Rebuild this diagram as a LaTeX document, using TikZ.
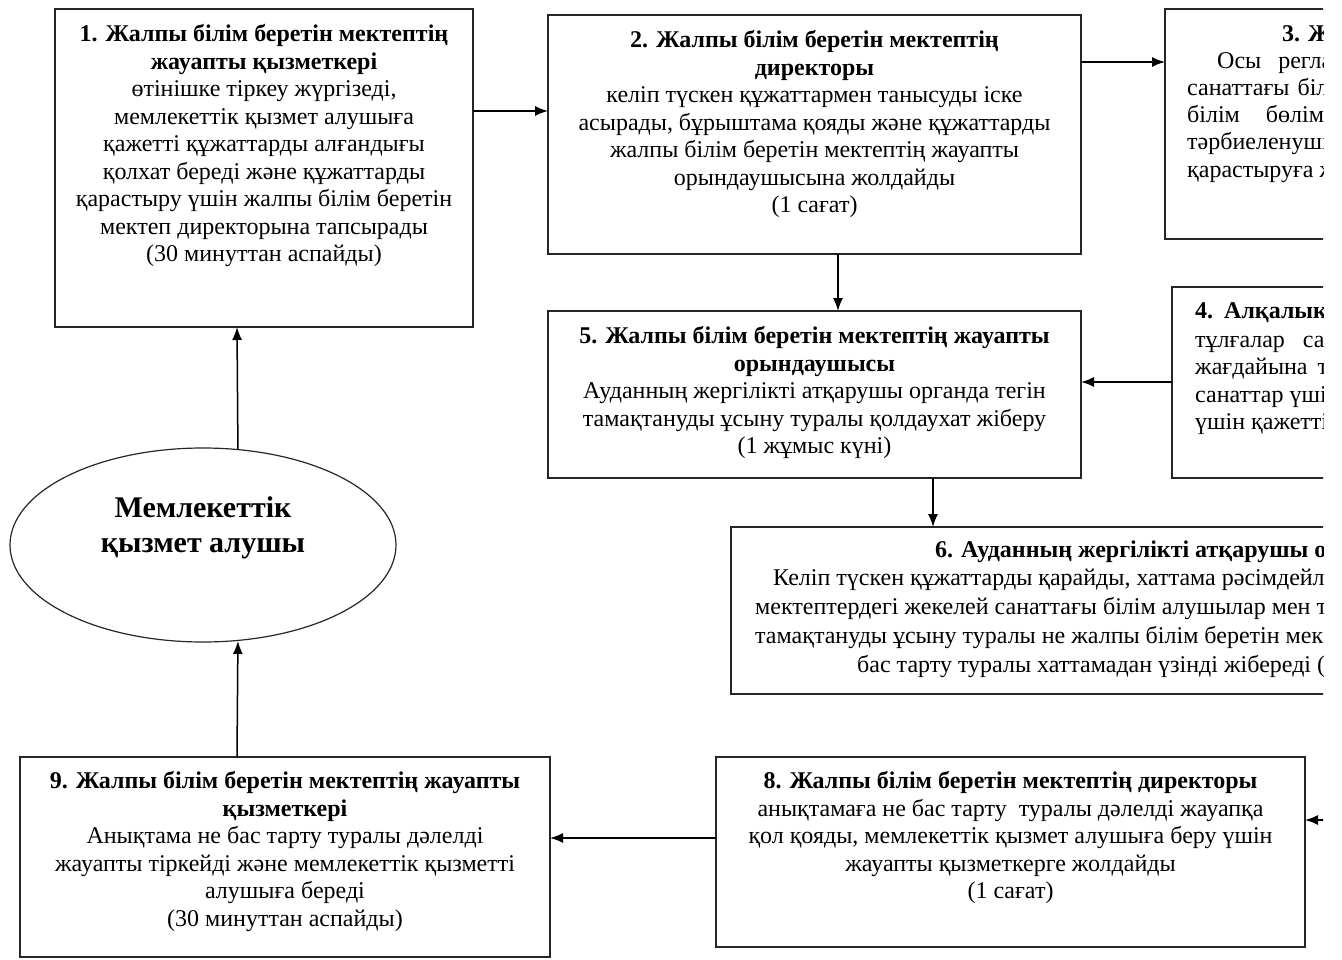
\documentclass[tikz,border=0pt]{standalone}
\usepackage{fontspec}
\setmainfont{Liberation Serif}
\usetikzlibrary{arrows.meta,shapes.geometric}
\begin{document}
\begin{tikzpicture}[x=1pt,y=-1pt,
  box/.style={draw=black!85,line width=1.8pt,inner sep=0pt,outer sep=0pt},
  txt/.style={inner sep=0pt,align=center,font=\fontsize{24}{27.5}\selectfont,anchor=north},
  ln/.style={inner sep=0pt,anchor=base west,font=\fontsize{24}{27.5}\selectfont},
  arr/.style={line width=1.5pt,-{Latex[length=13pt,width=10pt]}},
]
\useasboundingbox (0,0) rectangle (1342,960);
\begin{scope}
\clip (0,0) rectangle (1323,960);
% boxes
\node[box,minimum width=418pt,minimum height=318pt] (b1) at (264,168) {};
\node[box,minimum width=533pt,minimum height=239pt] (b2) at (814.5,134.5) {};
\node[box,minimum width=255pt,minimum height=230pt] (b3) at (1292.5,124) {};
\node[box,minimum width=248pt,minimum height=191pt] (b4) at (1296,382.5) {};
\node[box,minimum width=533pt,minimum height=167pt] (b5) at (814.5,394.5) {};
\node[box,minimum width=689pt,minimum height=167pt] (b6) at (1075.5,610.5) {};
\node[box,minimum width=589pt,minimum height=190pt] (b8) at (1010.5,852) {};
\node[box,minimum width=530pt,minimum height=200pt] (b9) at (285,857) {};
\node[draw=black!85,line width=1.2pt,ellipse,minimum width=386pt,minimum height=194pt,inner sep=0pt] (e) at (203,545) {};
% texts
\node[txt] (t1) at (264,24.5) {\textbf{1. Жалпы білім беретін мектептің}\\\textbf{жауапты қызметкері}\\өтінішке тіркеу жүргізеді,\\мемлекеттік қызмет алушыға\\қажетті құжаттарды алғандығы\\қолхат береді және құжаттарды\\қарастыру үшін жалпы білім беретін\\мектеп директорына тапсырады\\(30 минуттан аспайды)};
\node[txt] (t2) at (814.5,30.5) {\textbf{2. Жалпы білім беретін мектептің}\\\textbf{директоры}\\келіп түскен құжаттармен танысуды іске\\асырады, бұрыштама қояды және құжаттарды\\жалпы білім беретін мектептің жауапты\\орындаушысына жолдайды\\(1 сағат)};
\node[txt] (t5) at (814.5,326.5) {\textbf{5. Жалпы білім беретін мектептің жауапты}\\\textbf{орындаушысы}\\Ауданның жергілікті атқарушы органда тегін\\тамақтануды ұсыну туралы қолдаухат жіберу\\(1 жұмыс күні)};
\node[txt] (t8) at (1010.5,771.5) {\textbf{8. Жалпы білім беретін мектептің директоры}\\анықтамаға не бас тарту\ \ туралы дәлелді жауапқа\\қол қояды, мемлекеттік қызмет алушыға беру үшін\\жауапты қызметкерге жолдайды\\(1 сағат)};
\node[txt] (t9) at (285,771.5) {\textbf{9. Жалпы білім беретін мектептің жауапты}\\\textbf{қызметкері}\\Анықтама не бас тарту туралы дәлелді\\жауапты тіркейді және мемлекеттік қызметті\\алушыға береді\\(30 минуттан аспайды)};
\node[inner sep=0pt,align=center,font=\fontsize{30}{35}\selectfont\bfseries] (te) at (203,528) {Мемлекеттік\\қызмет алушы};
% box 3 (cut at the right edge)
\node[ln] (t3a) at (1282,42) {\textbf{3. Ж}};
\node[ln] (t3b) at (1217,69) {Осы \hspace{11pt}регла};
\node[ln] (t3c) at (1187,96) {санаттағы \hspace{2pt}біл};
\node[ln] (t3d) at (1187,123) {білім \hspace{20pt}бөлімі};
\node[ln] (t3e) at (1187,150) {тәрбиеленуші};
\node[ln] (t3f) at (1187,178) {қарастыруға ж};
% box 4
\node[ln] (t4a) at (1195,319) {\textbf{4. \hspace{3pt}Алқалық}};
\node[ln] (t4b) at (1195,347) {тұлғалар \hspace{12pt}са};
\node[ln] (t4c) at (1195,374) {жағдайына \hspace{4pt}т};
\node[ln] (t4d) at (1195,402) {санаттар үші};
\node[ln] (t4e) at (1195,429) {үшін қажетті};
% box 6
\node[ln] (t6a) at (935,557) {\textbf{6. Ауданның жергілікті атқарушы о}};
\node[ln] (t6b) at (773,585) {Келіп түскен құжаттарды қарайды, хаттама рәсімдейл};
\node[ln] (t6c) at (755,614) {мектептердегі жекелей санаттағы білім алушылар мен т};
\node[ln] (t6d) at (755,643) {тамақтануды ұсыну туралы не жалпы білім беретін мек};
\node[ln] (t6e) at (857,672) {бас тарту туралы хаттамадан үзінді жібереді (};
% connectors
\coordinate (r1) at (0,111);
\coordinate (r2) at (0,62);
\coordinate (c2) at (838,0);
\coordinate (r4) at (0,382);
\coordinate (c5) at (933,0);
\coordinate (in8) at (1340,820);
\coordinate (r8) at (0,838);
\coordinate (c0) at (237,0);
\draw[arr] (b1.east|-r1) -- (b2.west|-r1);
\draw[arr] (b2.east|-r2) -- (b3.west|-r2);
\draw[arr] (b2.south-|c2) -- (b5.north-|c2);
\draw[arr] (b4.west|-r4) -- (b5.east|-r4);
\draw[arr] (b5.south-|c5) -- (b6.north-|c5);
\draw[arr] (in8) -- (b8.east|-in8);
\draw[arr] (b8.west|-r8) -- (b9.east|-r8);
\draw[arr] (b9.north-|c0) -- (e.-70.4);
\draw[arr] (e.70.4) -- (b1.south-|c0);
\end{scope}
\end{tikzpicture}
\end{document}
